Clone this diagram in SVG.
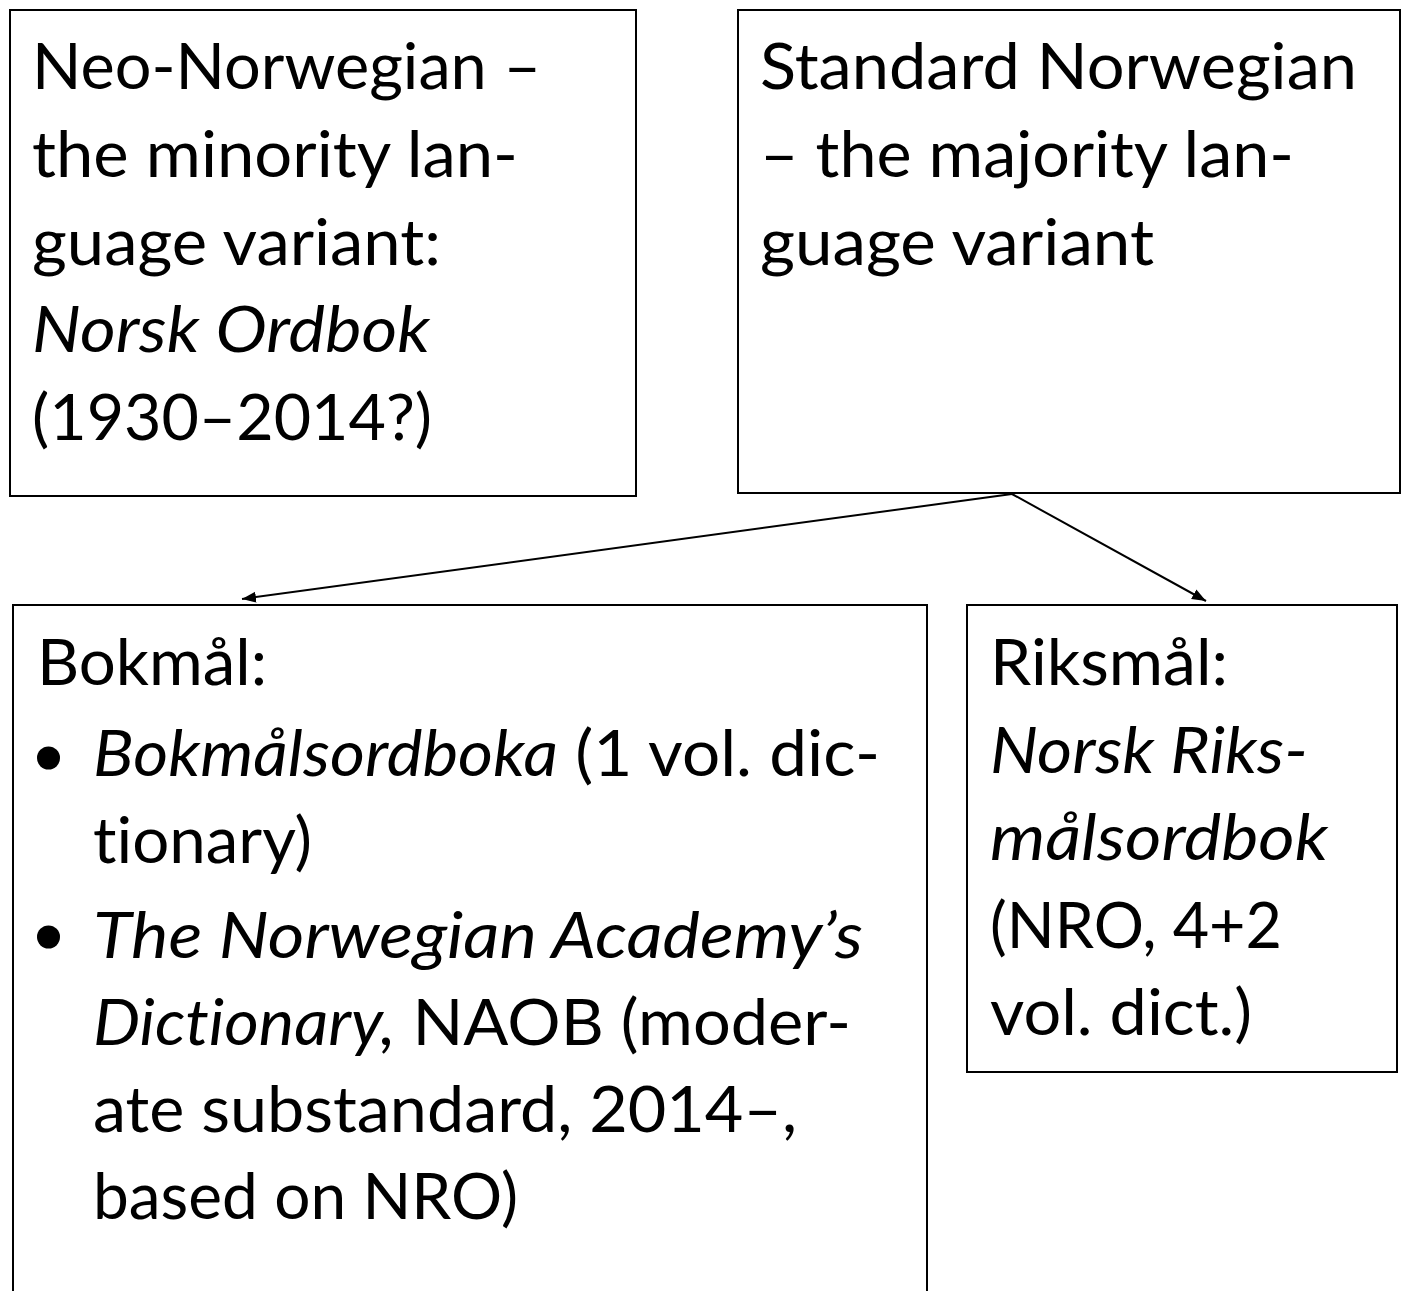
<svg xmlns="http://www.w3.org/2000/svg" width="1405" height="1291" viewBox="0 0 1405 1291">
<defs>
<style>
.box{fill:#fff;stroke:#000;stroke-width:2}
.t{font-family:Lato,"Open Sans","Liberation Sans",sans-serif;font-size:64px;fill:#000;font-variant-ligatures:none;font-feature-settings:"liga" 0,"clig" 0}
.i{font-style:italic}
.conn{stroke:#000;stroke-width:2;fill:none}
</style>
<marker id="arr" markerUnits="userSpaceOnUse" markerWidth="15" markerHeight="12" refX="14" refY="5.5" orient="auto">
<path d="M0,0 L14,5.5 L0,11 Z" fill="#000"/>
</marker>
</defs>
<rect width="1405" height="1291" fill="#fff"/>
<g id="neo-norwegian">
<rect class="box" x="10" y="10" width="626" height="486"/>
<text class="t" x="32" y="89" textLength="509" lengthAdjust="spacingAndGlyphs">Neo-Norwegian –</text>
<text class="t" x="32" y="177" textLength="486" lengthAdjust="spacingAndGlyphs">the minority lan-</text>
<text class="t" x="32" y="265" textLength="409" lengthAdjust="spacingAndGlyphs">guage variant:</text>
<text class="t i" x="32" y="352" textLength="398" lengthAdjust="spacingAndGlyphs">Norsk Ordbok</text>
<text class="t" x="32" y="440" textLength="400" lengthAdjust="spacingAndGlyphs">(1930–2014?)</text>
</g>
<g id="standard-norwegian">
<rect class="box" x="738" y="10" width="662" height="483"/>
<text class="t" x="760" y="89" textLength="597" lengthAdjust="spacingAndGlyphs">Standard Norwegian</text>
<text class="t" x="760" y="177" textLength="534" lengthAdjust="spacingAndGlyphs">– the majority lan-</text>
<text class="t" x="760" y="265" textLength="394" lengthAdjust="spacingAndGlyphs">guage variant</text>
</g>
<g id="bokmal">
<rect class="box" x="13" y="605" width="914" height="720"/>
<text class="t" x="37" y="685" textLength="230" lengthAdjust="spacingAndGlyphs">Bokmål:</text>
<circle cx="48.5" cy="758" r="11.5" fill="#000"/>
<text class="t" x="93" y="776" textLength="787" lengthAdjust="spacingAndGlyphs"><tspan class="i">Bokmålsordboka</tspan> (1 vol. dic-</text>
<text class="t" x="93" y="863" textLength="219" lengthAdjust="spacingAndGlyphs">tionary)</text>
<circle cx="48.5" cy="937" r="11.5" fill="#000"/>
<text class="t i" x="93" y="958" textLength="770" lengthAdjust="spacingAndGlyphs">The Norwegian Academy’s</text>
<text class="t" x="93" y="1045" textLength="758" lengthAdjust="spacingAndGlyphs"><tspan class="i">Dictionary,</tspan> NAOB (moder-</text>
<text class="t" x="93" y="1132" textLength="704" lengthAdjust="spacingAndGlyphs">ate substandard, 2014–,</text>
<text class="t" x="93" y="1219" textLength="425" lengthAdjust="spacingAndGlyphs">based on NRO)</text>
</g>
<g id="riksmal">
<rect class="box" x="967" y="605" width="430" height="467"/>
<text class="t" x="990" y="685" textLength="238" lengthAdjust="spacingAndGlyphs">Riksmål:</text>
<text class="t i" x="990" y="773" textLength="318" lengthAdjust="spacingAndGlyphs">Norsk Riks-</text>
<text class="t i" x="990" y="860" textLength="338" lengthAdjust="spacingAndGlyphs">målsordbok</text>
<text class="t" x="990" y="948" textLength="292" lengthAdjust="spacingAndGlyphs">(NRO, 4+2</text>
<text class="t" x="990" y="1035" textLength="262" lengthAdjust="spacingAndGlyphs">vol. dict.)</text>
</g>
<g id="connectors">
<line class="conn" x1="1012" y1="494" x2="242" y2="599" marker-end="url(#arr)"/>
<line class="conn" x1="1012" y1="494" x2="1206" y2="601" marker-end="url(#arr)"/>
</g>
</svg>
